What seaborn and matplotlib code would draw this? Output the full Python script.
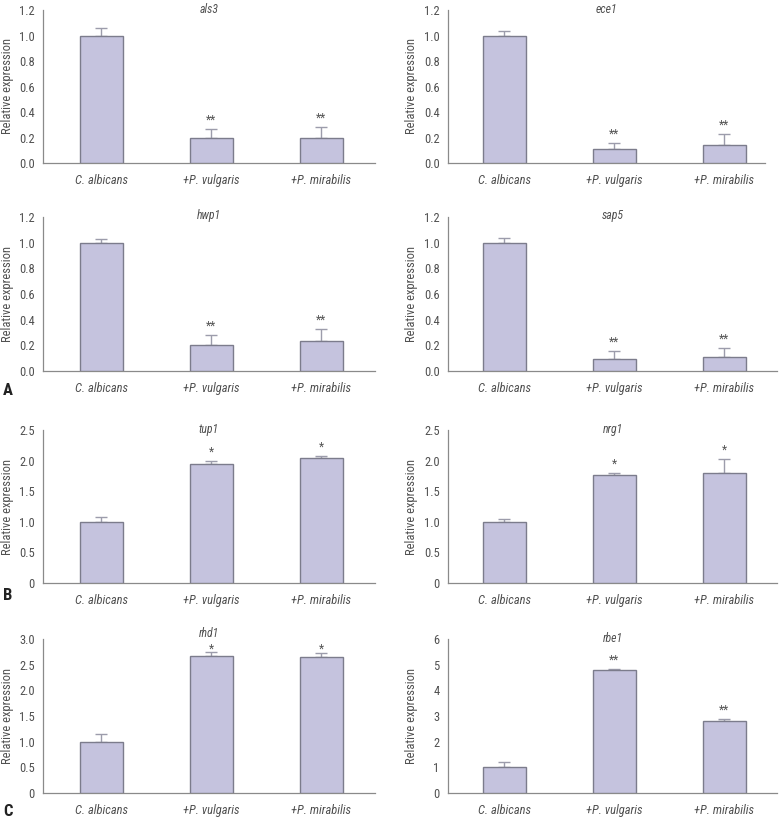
import numpy as np
import pandas as pd
import matplotlib
matplotlib.use("Agg")
import matplotlib.pyplot as plt
import seaborn as sns
from matplotlib import font_manager as fm
from matplotlib.transforms import offset_copy

# ---------------- data ----------------
categories = ["C. albicans", "+P. vulgaris", "+P. mirabilis"]

als3_mean = [1.00, 0.20, 0.20]
als3_err = [0.06, 0.065, 0.085]
ece1_mean = [1.00, 0.11, 0.14]
ece1_err = [0.035, 0.045, 0.09]
hwp1_mean = [1.00, 0.20, 0.23]
hwp1_err = [0.025, 0.08, 0.095]
sap5_mean = [1.00, 0.09, 0.11]
sap5_err = [0.035, 0.065, 0.07]
tup1_mean = [1.00, 1.94, 2.05]
tup1_err = [0.08, 0.055, 0.03]
nrg1_mean = [1.00, 1.76, 1.80]
nrg1_err = [0.045, 0.03, 0.23]
rhd1_mean = [1.00, 2.66, 2.64]
rhd1_err = [0.15, 0.08, 0.08]
rbe1_mean = [1.00, 4.79, 2.79]
rbe1_err = [0.20, 0.05, 0.09]

stars_two = ["", "**", "**"]
stars_one = ["", "*", "*"]

ticks_12 = [0.0, 0.2, 0.4, 0.6, 0.8, 1.0, 1.2]
ticklabels_12 = ["0.0", "0.2", "0.4", "0.6", "0.8", "1.0", "1.2"]
ticks_25 = [0, 0.5, 1.0, 1.5, 2.0, 2.5]
ticklabels_25 = ["0", "0.5", "1.0", "1.5", "2.0", "2.5"]
ticks_30 = [0, 0.5, 1.0, 1.5, 2.0, 2.5, 3.0]
ticklabels_30 = ["0", "0.5", "1.0", "1.5", "2.0", "2.5", "3.0"]
ticks_6 = [0, 1, 2, 3, 4, 5, 6]
ticklabels_6 = ["0", "1", "2", "3", "4", "5", "6"]

panels = [
    ("als3", als3_mean, als3_err, stars_two, ticks_12, ticklabels_12),
    ("ece1", ece1_mean, ece1_err, stars_two, ticks_12, ticklabels_12),
    ("hwp1", hwp1_mean, hwp1_err, stars_two, ticks_12, ticklabels_12),
    ("sap5", sap5_mean, sap5_err, stars_two, ticks_12, ticklabels_12),
    ("tup1", tup1_mean, tup1_err, stars_one, ticks_25, ticklabels_25),
    ("nrg1", nrg1_mean, nrg1_err, stars_one, ticks_25, ticklabels_25),
    ("rhd1", rhd1_mean, rhd1_err, stars_one, ticks_30, ticklabels_30),
    ("rbe1", rbe1_mean, rbe1_err, stars_two, ticks_6, ticklabels_6),
]

# ---------------- style ----------------
sns.set_style("white")

names = {f.name for f in fm.fontManager.ttflist}
family, stretch = None, "normal"
for cand in ["Liberation Sans Narrow", "Roboto Condensed", "Open Sans Condensed",
             "DejaVu Sans Condensed", "Arial Narrow", "Noto Sans Condensed"]:
    if cand in names:
        family = cand
        break
if family is None:
    for f in fm.fontManager.ttflist:
        if f.name == "DejaVu Sans" and str(f.stretch) in ("condensed", "semi-condensed"):
            family, stretch = "DejaVu Sans", "condensed"
            break
if family is None:
    family = "Liberation Sans" if "Liberation Sans" in names else "DejaVu Sans"

plt.rcParams["font.family"] = [family, "DejaVu Sans"]
plt.rcParams["font.stretch"] = stretch

LAB = 9.0

W, H = 779, 821
fig = plt.figure(figsize=(W / 100, H / 100), dpi=100)

BAR = "#c5c3de"
EDGE = "#7c7c8c"
ERR = "#9c9cab"
SPINE = "#8a8a8a"
TXT = "#505050"

row_px = [(10, 163), (217, 371), (430, 583), (639, 793)]
col_px = [(43, 375), (448, 777)]

for i, (gene, mean, err, stars, ticks, tlabels) in enumerate(panels):
    r, c = divmod(i, 2)
    top, bot = row_px[r]
    left, right = col_px[c]
    xlim = (-0.53, 2.49) if c == 0 else (-0.51, 2.48)
    if gene == "ece1":
        right = 765
        xlim = (-0.51, 2.37)
    ax = fig.add_axes([left / W, 1 - bot / H, (right - left) / W, (bot - top) / H])
    df = pd.DataFrame({"group": categories, "value": mean})
    sns.barplot(data=df, x="group", y="value", color=BAR, saturation=1,
                width=0.39, edgecolor=EDGE, linewidth=1.0, errorbar=None,
                ax=ax, zorder=3)
    xs = [p.get_x() + p.get_width() / 2 for p in ax.patches]
    ax.errorbar(xs, mean, yerr=[np.zeros(len(err)), err], fmt="none",
                ecolor=ERR, elinewidth=1.0, capsize=4.5, capthick=1.0, zorder=2)
    ax.set_xlim(*xlim)
    ax.set_ylim(ticks[0], ticks[-1])
    px_per_unit = (bot - top) / (ticks[-1] - ticks[0])
    star_fs = 8.5
    min_room = 999.0
    for x, m, e, s in zip(xs, mean, err, stars):
        if s:
            room = (ticks[-1] - (m + e)) * px_per_unit
            min_room = min(min_room, room)
            center_px = min(12.0, room - 7.0)
            base_px = center_px - 0.55 * star_fs * 100 / 72
            ax.annotate(s, (x, m + e), xytext=(0, base_px * 0.72),
                        textcoords="offset points", ha="center", va="baseline",
                        fontsize=star_fs, color="#555555")
    ax.set_yticks(ticks)
    ax.set_yticklabels(tlabels)
    ax.set_xlabel("")
    ax.set_ylabel("")
    for lab in ax.get_xticklabels():
        lab.set_fontstyle("italic")
    sns.despine(ax=ax)
    for sp in ("left", "bottom"):
        ax.spines[sp].set_color(SPINE)
        ax.spines[sp].set_linewidth(0.9)
    ax.tick_params(axis="both", direction="out", length=4, width=0.8,
                   color=SPINE, labelcolor=TXT, labelsize=LAB)
    ax.tick_params(axis="y", pad=2)
    ax.tick_params(axis="x", pad=4)
    lift_px = 6.0 if min_room < 20 else 1.0
    ttrans = offset_copy(ax.transAxes, fig=fig, x=0, y=lift_px, units="dots")
    ax.text(0.5, 1.0, gene, transform=ttrans, ha="center", va="center",
            fontsize=8.5, fontstyle="italic", color=TXT)
    ylab_x = 8 if c == 0 else 412
    fig.text(ylab_x / W, 1 - ((top + bot) / 2) / H, "Relative expression",
             rotation=90, ha="center", va="center", fontsize=9, color=TXT)

for lab, ypx in (("A", 390), ("B", 596), ("C", 811)):
    fig.text(8 / W, 1 - ypx / H, lab, ha="center", va="center",
             fontsize=12, fontweight="bold", color="#222222")

fig.savefig("out.png", dpi=100)
